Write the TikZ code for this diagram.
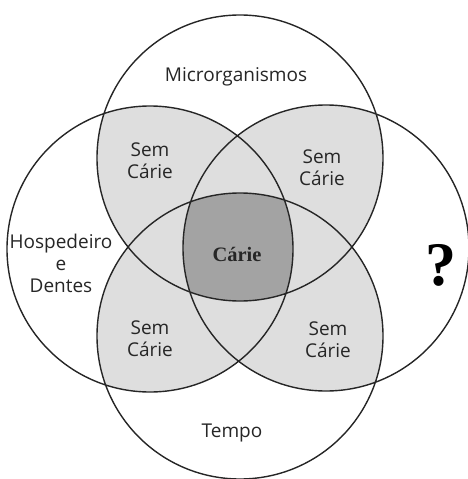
\documentclass[tikz,border=0pt]{standalone}
\usepackage{fontspec}
\setmainfont{Open Sans}
\newfontfamily\serifbold{Liberation Serif}

\begin{document}
\begin{tikzpicture}[x=1pt,y=-1pt,
        set line/.style = {draw=black!85,line width=1.4pt},
        region text/.style = {font=\fontsize{19}{21.8}\selectfont,text=black!85,align=center,anchor=base,inner sep=0pt},
        two sets/.style = {fill=black!13},
        all sets/.style = {fill=black!36}]
    \useasboundingbox (0,0) rectangle (467,479);
    \coordinate (top) at (240,158);
    \coordinate (bottom) at (240,336);
    \coordinate (left) at (150,249);
    \coordinate (right) at (326,248);
    % overlaps of at least two sets
    \begin{scope}
        \clip (top) circle (143pt);
        \fill[two sets] (left) circle (143pt) (right) circle (143pt) (bottom) circle (143pt);
    \end{scope}
    \begin{scope}
        \clip (left) circle (143pt);
        \fill[two sets] (right) circle (143pt) (bottom) circle (143pt);
    \end{scope}
    \begin{scope}
        \clip (right) circle (143pt);
        \fill[two sets] (bottom) circle (143pt);
    \end{scope}
    % overlap of all four
    \begin{scope}
        \clip (top) circle (143pt);
        \clip (left) circle (143pt);
        \clip (right) circle (143pt);
        \fill[all sets] (bottom) circle (143pt);
    \end{scope}
    \draw[set line] (top) circle (143pt) (bottom) circle (143pt) (left) circle (143pt) (right) circle (143pt);
    \node[region text] (micro) at (236,81) {Microrganismos};
    \node[region text] (host) at (61,292) {Hospedeiro\\e\\Dentes};
    \node[region text] (time) at (232,437) {Tempo};
    \node[region text] (tl) at (150,178) {Sem\\Cárie};
    \node[region text] (tr) at (322,185) {Sem\\Cárie};
    \node[region text] (bl) at (150,356) {Sem\\Cárie};
    \node[region text] (br) at (328,357) {Sem\\Cárie};
    \node[font=\serifbold\bfseries\fontsize{20.5}{20.5}\selectfont,text=black!85,anchor=base] (carie) at (237,261) {Cárie};
    \node[font=\serifbold\bfseries\fontsize{62}{62}\selectfont] (unknown) at (441,265) {?};
\end{tikzpicture}
\end{document}
